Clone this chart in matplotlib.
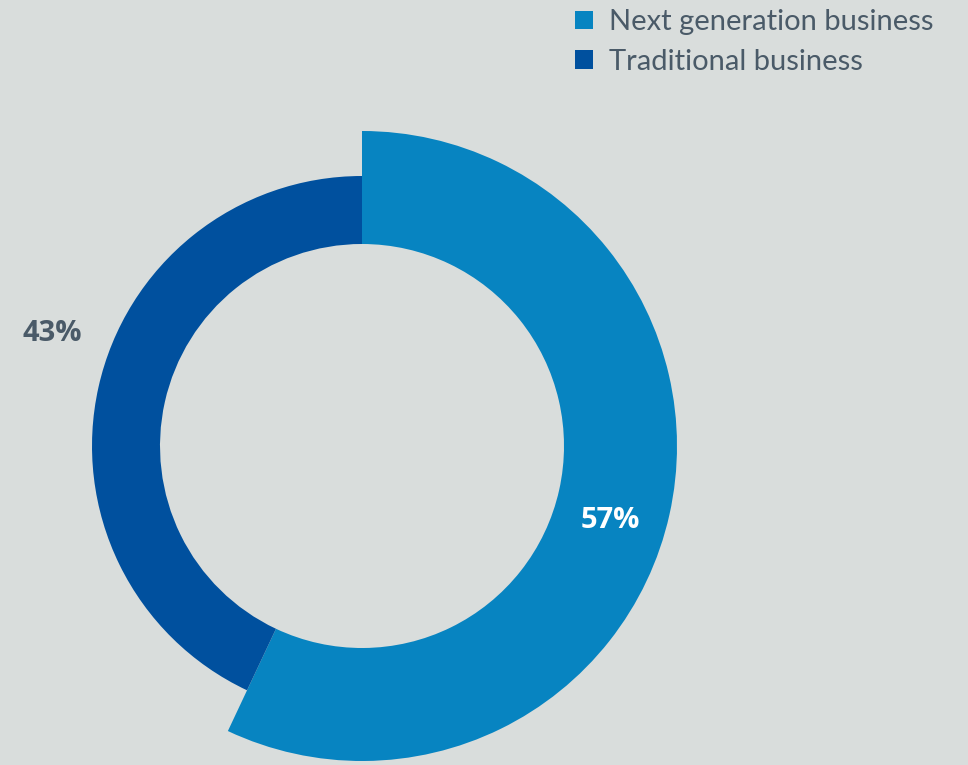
import matplotlib.pyplot as plt
from matplotlib.patches import Patch

plt.rcParams['font.family'] = ['Lato', 'DejaVu Sans']

# data
labels = ['Next generation business', 'Traditional business']
shares = [57, 43]
colors = ['#0784C1', '#00509E']
label_text = ['57%', '43%']

BG = '#D9DDDC'
TEXT = '#4A5A68'

W, H = 968, 765
fig = plt.figure(figsize=(W / 100, H / 100), dpi=100, facecolor=BG)
ax = fig.add_axes([0, 0, 1, 1])
ax.set_facecolor(BG)

center = (362, H - 446)
inner = 202
radii = [315, 270]  # outer radius per segment

# one pie per segment so each can have its own outer radius
for i, r in enumerate(radii):
    cols = ['none'] * len(shares)
    cols[i] = colors[i]
    ax.pie(shares, colors=cols, radius=r, center=center, startangle=90,
           counterclock=False, frame=True,
           wedgeprops=dict(width=r - inner, linewidth=0))

ax.set_xlim(0, W)
ax.set_ylim(0, H)
ax.set_aspect('equal')
ax.axis('off')

bold = dict(family=['Open Sans', 'DejaVu Sans'], fontsize=21,
            fontweight='bold', ha='center', va='center')
ax.text(610, H - 521, label_text[0], color='white', **bold)
ax.text(52, H - 333, label_text[1], color=TEXT, **bold)

handles = [Patch(facecolor=c, edgecolor='none') for c in colors]
leg = fig.legend(handles, labels, loc='upper left',
                 bbox_to_anchor=(555 / W, 1 + 11 / H), frameon=False,
                 fontsize=21, handlelength=0.6, handleheight=0.6,
                 handletextpad=0.55, labelspacing=0.45, borderpad=0.2)
for t in leg.get_texts():
    t.set_color(TEXT)

fig.savefig('out.png', dpi=100, facecolor=BG)
